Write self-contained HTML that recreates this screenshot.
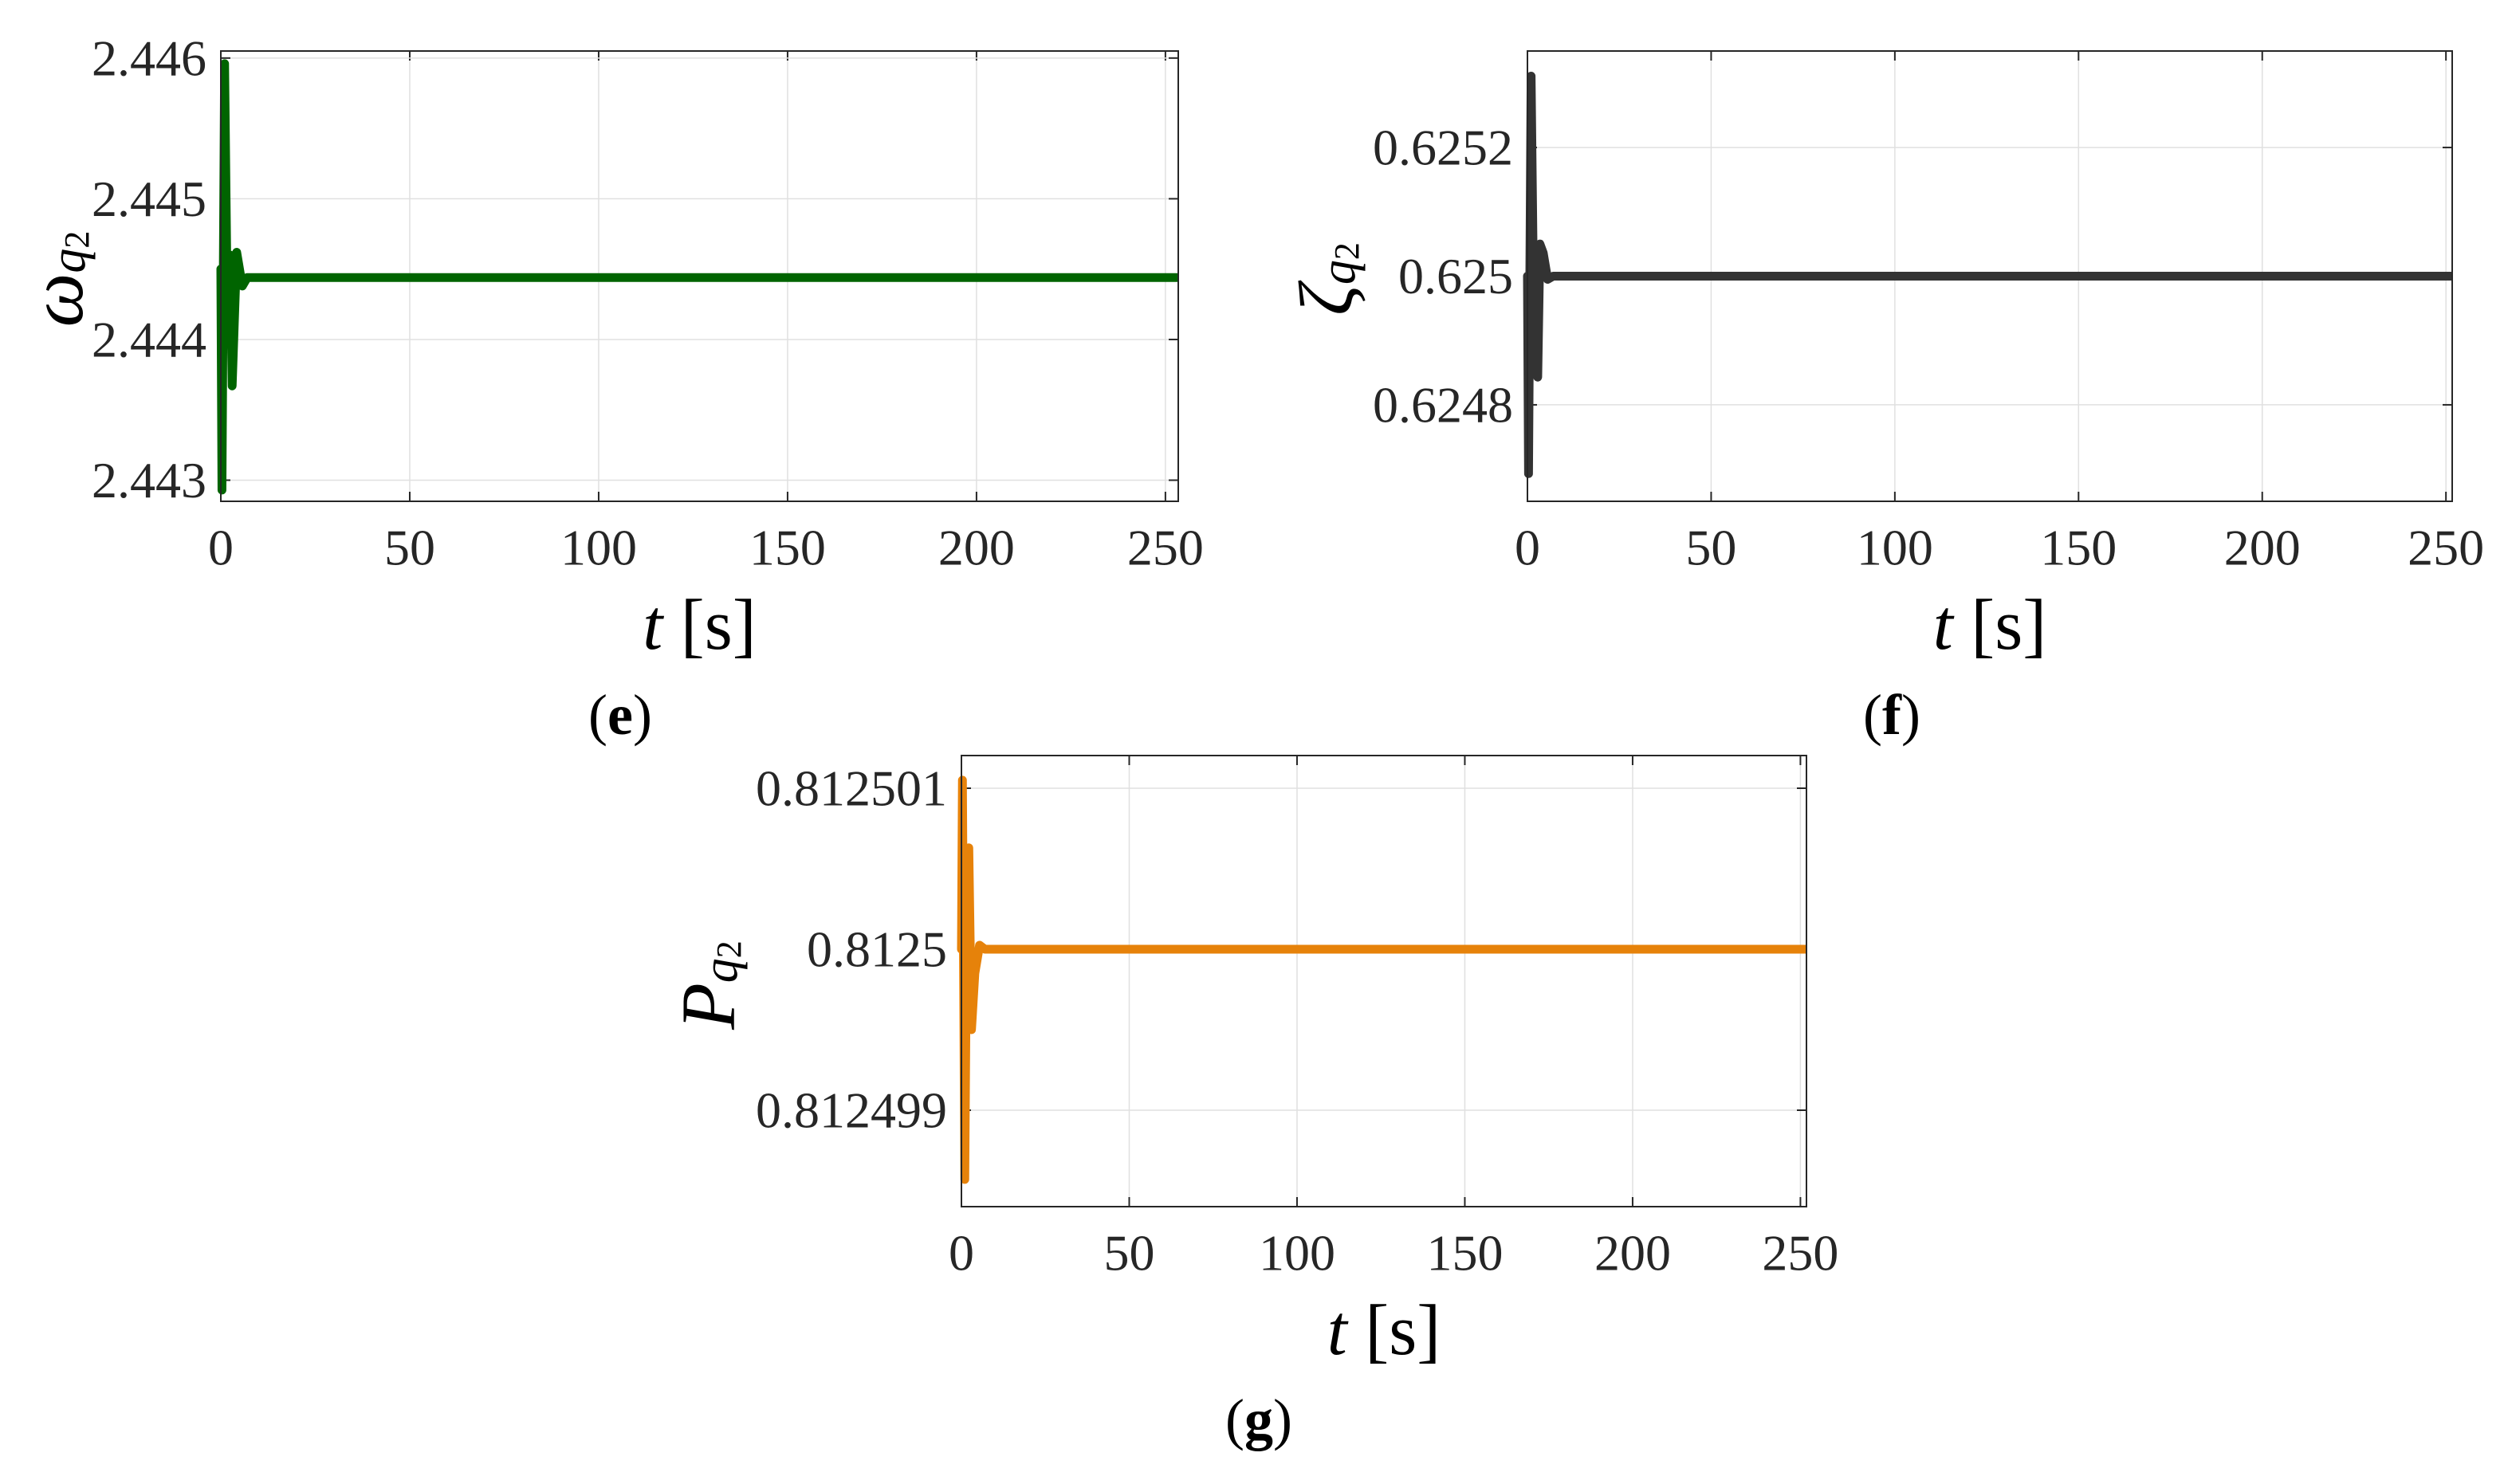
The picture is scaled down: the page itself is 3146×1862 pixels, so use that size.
<!DOCTYPE html>
<html><head><meta charset="utf-8">
<style>
html,body{margin:0;padding:0;background:#fff;}
svg{display:block;}
text{font-family:"Liberation Serif",serif;}
</style></head>
<body>
<svg id="fig" width="3146" height="1862" viewBox="0 0 3146 1862" xmlns="http://www.w3.org/2000/svg"></svg>
<script>
// Panel e data
const eTimes = [0, 0.3, 1.0, 1.8, 2.5, 3.0, 4.2, 5.7, 7, 253];
const eValues = [2.4445, 2.44293, 2.44596, 2.4440, 2.4446, 2.44367, 2.44462, 2.44438, 2.44444, 2.44444];
const eYTicks = [2.443, 2.444, 2.445, 2.446];
const eYTickLabels = ["2.443", "2.444", "2.445", "2.446"];
// Panel f data
const fTimes = [0, 0.3, 1.0, 1.8, 2.8, 3.4, 4.3, 5.5, 7, 252];
const fValues = [0.625, 0.624693, 0.625311, 0.62490, 0.624843, 0.62505, 0.625036, 0.624995, 0.625, 0.625];
const fYTicks = [0.6248, 0.625, 0.6252];
const fYTickLabels = ["0.6248", "0.625", "0.6252"];
// Panel g data
const gTimes = [0, 0.3, 1.0, 1.6, 2.2, 3.0, 4.0, 5.4, 7, 252];
const gValues = [0.8125, 0.81250105, 0.81249857, 0.8125003, 0.81250063, 0.8124995, 0.81249985, 0.812500025, 0.8125, 0.8125];
const gYTicks = [0.812499, 0.8125, 0.812501];
const gYTickLabels = ["0.812499", "0.8125", "0.812501"];
// shared x ticks
const xTicks = [0, 50, 100, 150, 200, 250];
const xTickLabels = ["0", "50", "100", "150", "200", "250"];

const NS = "http://www.w3.org/2000/svg";
const svg = document.getElementById("fig");
function mk(tag, attrs, parent) {
  const el = document.createElementNS(NS, tag);
  for (const k in attrs) el.setAttribute(k, attrs[k]);
  (parent || svg).appendChild(el);
  return el;
}

function panel(cfg) {
  const g = mk("g", {});
  
  
  const L = cfg.left, R = cfg.right, T = cfg.top, B = cfg.bottom;
  const sx = v => L + (v - cfg.xmin) / (cfg.xmax - cfg.xmin) * (R - L);
  const sy = v => B - (v - cfg.ymin) / (cfg.ymax - cfg.ymin) * (B - T);
  mk("rect", {x: L, y: T, width: R - L, height: B - T, fill: "#fff"}, g);
  xTicks.forEach((t, i) => {
    const x = sx(t);
    const gl = mk("line", {x1: x, x2: x, y1: T, y2: B, stroke: "#e0e0e0", "stroke-width": 1.5}, g);
    
    
    mk("line", {x1: x, x2: x, y1: B, y2: B - 12, stroke: "#262626", "stroke-width": 2}, g);
    mk("line", {x1: x, x2: x, y1: T, y2: T + 12, stroke: "#262626", "stroke-width": 2}, g);
    const tl = mk("text", {x: x, y: B + 58, "font-size": 64, fill: "#262626", "text-anchor": "middle", "dominant-baseline": "central"}, g);
    tl.textContent = xTickLabels[i];
    
    
  });
  cfg.yTicks.forEach((v, i) => {
    const y = sy(v);
    const gl = mk("line", {x1: L, x2: R, y1: y, y2: y, stroke: "#e0e0e0", "stroke-width": 1.5}, g);
    
    
    mk("line", {x1: L, x2: L + 12, y1: y, y2: y, stroke: "#262626", "stroke-width": 2}, g);
    mk("line", {x1: R, x2: R - 12, y1: y, y2: y, stroke: "#262626", "stroke-width": 2}, g);
    const tl = mk("text", {x: L - 18, y: y, "font-size": 64, fill: "#262626", "text-anchor": "end", "dominant-baseline": "central"}, g);
    tl.textContent = cfg.yLabels[i];
    
    
  });
  const pts = cfg.times.map((t, i) => sx(t).toFixed(2) + "," + sy(cfg.values[i]).toFixed(2)).join(" ");
  const line = mk("polyline", {points: pts, fill: "none", stroke: cfg.color, "stroke-width": 11, "stroke-linejoin": "round", "stroke-linecap": "round"}, g);
  
  
  mk("rect", {x: R + 1, y: T - 10, width: 20, height: B - T + 20, fill: "#fff"}, g);
  const box = mk("rect", {x: L, y: T, width: R - L, height: B - T, fill: "none", stroke: "#262626", "stroke-width": 2}, g);
  
  
  const xl = mk("text", {x: (L + R) / 2, y: B + 155, "font-size": 90, fill: "#000", "text-anchor": "middle", "dominant-baseline": "central"}, g);
  
  
  const t1 = mk("tspan", {"font-style": "italic"}, xl); t1.textContent = "t";
  const t2 = mk("tspan", {}, xl); t2.textContent = " [s]";
  const yl = mk("text", {x: 0, y: 0, "font-size": 96, fill: "#000", "text-anchor": "middle", "dominant-baseline": "central", transform: "translate(" + cfg.ylx + "," + cfg.yly + ") rotate(-90)"}, g);
  
  
  const s1 = mk("tspan", {"font-style": "italic"}, yl); s1.textContent = cfg.ysym;
  const s2 = mk("tspan", {"font-style": "italic", "font-size": 62, dy: 16}, yl); s2.textContent = "q";
  const s3 = mk("tspan", {"font-size": 44, dy: 10}, yl); s3.textContent = "2";
  const cap = mk("text", {x: cfg.capx, y: cfg.capy, "font-size": 72, fill: "#000", "text-anchor": "middle", "dominant-baseline": "central"}, g);
  
  
  const c1 = mk("tspan", {}, cap); c1.textContent = "(";
  const c2 = mk("tspan", {"font-weight": "bold"}, cap); c2.textContent = cfg.cap;
  const c3 = mk("tspan", {}, cap); c3.textContent = ")";
}

panel({name: "panel-e", left: 277, right: 1478, top: 64, bottom: 629,
  xmin: 0, xmax: 253.4, ymin: 2.44285, ymax: 2.44605,
  yTicks: eYTicks, yLabels: eYTickLabels, times: eTimes, values: eValues,
  color: "#006400", ysym: "ω", ylx: 70, yly: 350, cap: "e", capx: 778, capy: 897});
panel({name: "panel-f", left: 1916, right: 3076, top: 64, bottom: 629,
  xmin: 0, xmax: 251.7, ymin: 0.62465, ymax: 0.62535,
  yTicks: fYTicks, yLabels: fYTickLabels, times: fTimes, values: fValues,
  color: "#333333", ysym: "ζ", ylx: 1663, yly: 350, cap: "f", capx: 2373, capy: 897});
panel({name: "panel-g", left: 1206, right: 2266, top: 948, bottom: 1514,
  xmin: 0, xmax: 251.8, ymin: 0.8125 - 1.599e-6, ymax: 0.8125 + 1.203e-6,
  yTicks: gYTicks, yLabels: gYTickLabels, times: gTimes, values: gValues,
  color: "#E6820A", ysym: "P", ylx: 888, yly: 1236, cap: "g", capx: 1579, capy: 1781});
</script>
</body></html>
